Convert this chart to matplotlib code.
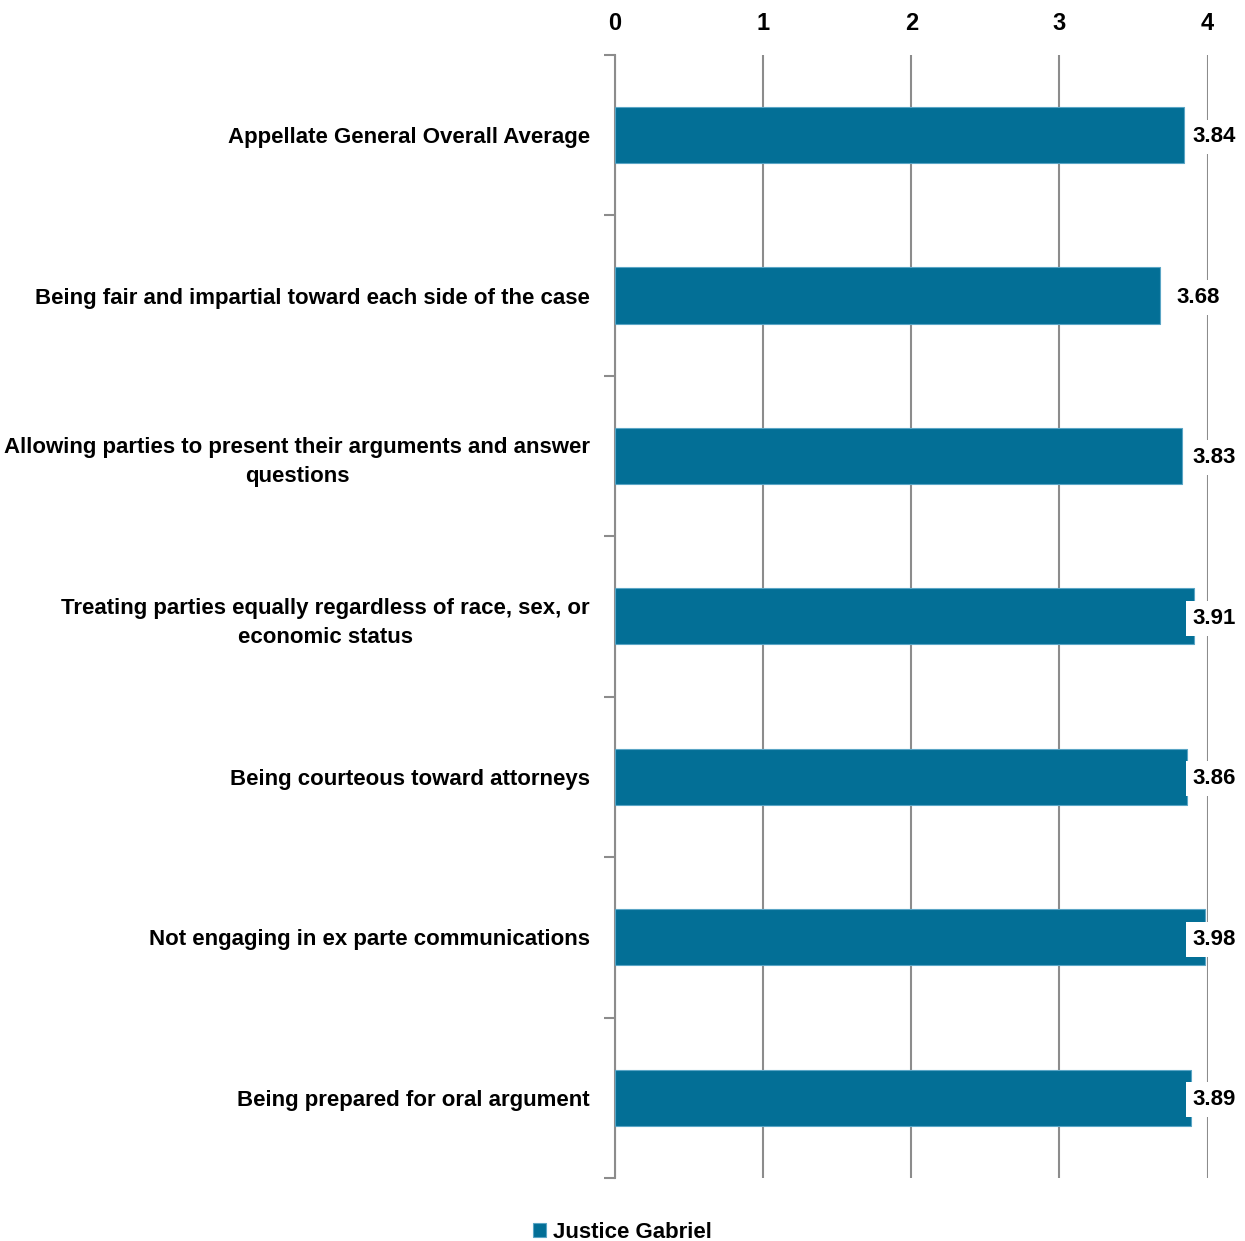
"""Horizontal bar chart: Justice Gabriel appellate survey scores."""

import matplotlib

matplotlib.use("Agg")
import matplotlib.pyplot as plt
import numpy as np

# Survey categories, top to bottom
CATEGORIES = [
    "Appellate General Overall Average",
    "Being fair and impartial toward each side of the case",
    "Allowing parties to present their arguments and answer\nquestions",
    "Treating parties equally regardless of race, sex, or\neconomic status",
    "Being courteous toward attorneys",
    "Not engaging in ex parte communications",
    "Being prepared for oral argument",
]
SCORES = [3.84, 3.68, 3.83, 3.91, 3.86, 3.98, 3.89]
SERIES_NAME = "Justice Gabriel"
X_TICKS = [0, 1, 2, 3, 4]

BAR_COLOR = "#036f96"
GRID_COLOR = "#8c8c8c"
FS = 16

plt.rcParams["font.family"] = ["Liberation Sans", "DejaVu Sans"]
plt.rcParams["font.weight"] = "bold"

fig = plt.figure(figsize=(12.45, 12.41), dpi=100)
ax = fig.add_axes([0.494, 0.0508, 0.476, 0.905])

y = np.arange(len(CATEGORIES))
ax.barh(y, SCORES, height=0.35, color=BAR_COLOR, edgecolor="#5aa5c5",
        linewidth=0.8, zorder=3, label=SERIES_NAME)

ax.set_xlim(0, 4)
ax.set_ylim(len(CATEGORIES) - 0.5, -0.5)

ax.xaxis.tick_top()
ax.set_xticks(X_TICKS)
ax.set_xticklabels([str(t) for t in X_TICKS], fontsize=FS + 1, fontweight="bold")
ax.tick_params(axis="x", length=0, pad=14)
ax.grid(axis="x", color=GRID_COLOR, linewidth=1.5, zorder=0)

ax.set_yticks(y)
ax.set_yticklabels(CATEGORIES, fontsize=FS, fontweight="bold",
                   multialignment="center", linespacing=1.5)
ax.tick_params(axis="y", which="major", length=0, pad=18)
ax.set_yticks(np.arange(-0.5, len(CATEGORIES), 1), minor=True)
ax.tick_params(axis="y", which="minor", length=8, width=1.5, color=GRID_COLOR)

for side in ("top", "right", "bottom"):
    ax.spines[side].set_visible(False)
ax.spines["left"].set_color(GRID_COLOR)
ax.spines["left"].set_linewidth(1.5)

# data labels, kept inside the chart area like the spreadsheet does
label_cap = 3.90
for yi, v in zip(y, SCORES):
    xl = min(v + 0.11, label_cap)
    ax.text(xl, yi + 0.012, f"{v:.2f}", ha="left", va="center", fontsize=FS,
            fontweight="bold", zorder=4,
            bbox=dict(facecolor="white", edgecolor="none", pad=5))

fig.legend(loc="lower center", bbox_to_anchor=(0.5, -0.003), frameon=False,
           fontsize=FS, handlelength=0.6, handleheight=0.6, handletextpad=0.3,
           borderaxespad=0.0, borderpad=0.1)

fig.savefig("out.png", dpi=100)
